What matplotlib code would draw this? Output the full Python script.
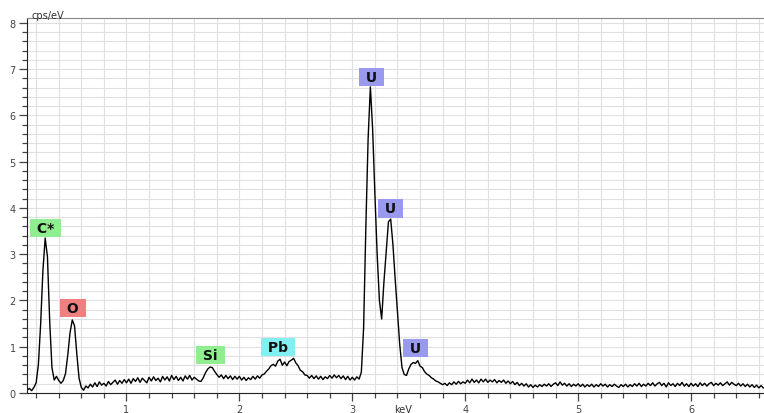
import numpy as np
import matplotlib
matplotlib.use("Agg")
import matplotlib.pyplot as plt
from matplotlib.ticker import MultipleLocator

# spectrum in cps/eV, sampled every 0.02 keV, one list per keV range
STEP = 0.02
seg_start = [0.12, 1.00, 2.00, 3.00, 4.00, 5.00, 6.00]

cps_0 = [0.06, 0.10, 0.05, 0.12, 0.22, 0.62, 1.50, 2.65, 3.35, 2.95, 1.55, 0.55,
         0.28, 0.36, 0.27, 0.21, 0.27, 0.42, 0.82, 1.30, 1.58, 1.45, 0.85, 0.32,
         0.12, 0.06, 0.15, 0.11, 0.19, 0.13, 0.22, 0.14, 0.24, 0.17, 0.21, 0.15,
         0.25, 0.18, 0.23, 0.28, 0.19, 0.27, 0.21, 0.29]
cps_1 = [0.22, 0.30, 0.21, 0.31, 0.25, 0.33, 0.23, 0.32, 0.27, 0.22, 0.34, 0.26,
         0.35, 0.27, 0.32, 0.24, 0.36, 0.28, 0.35, 0.26, 0.38, 0.29, 0.36, 0.27,
         0.34, 0.26, 0.37, 0.30, 0.38, 0.28, 0.34, 0.30, 0.26, 0.25, 0.33, 0.44,
         0.52, 0.56, 0.55, 0.47, 0.40, 0.34, 0.39, 0.31, 0.38, 0.31, 0.37, 0.29,
         0.36, 0.30]
cps_2 = [0.36, 0.28, 0.34, 0.27, 0.33, 0.29, 0.36, 0.30, 0.37, 0.32, 0.39, 0.41,
         0.47, 0.52, 0.59, 0.62, 0.58, 0.69, 0.73, 0.60, 0.67, 0.59, 0.68, 0.71,
         0.75, 0.65, 0.59, 0.49, 0.46, 0.39, 0.38, 0.32, 0.38, 0.31, 0.37, 0.30,
         0.36, 0.29, 0.35, 0.31, 0.38, 0.32, 0.39, 0.33, 0.38, 0.31, 0.37, 0.29,
         0.36, 0.28]
cps_3 = [0.34, 0.28, 0.35, 0.30, 0.45, 1.40, 3.60, 5.50, 6.62, 5.70, 4.30, 3.00,
         2.00, 1.60, 2.40, 3.05, 3.70, 3.76, 3.20, 2.45, 1.75, 1.05, 0.55, 0.40,
         0.38, 0.52, 0.62, 0.66, 0.64, 0.70, 0.58, 0.55, 0.46, 0.41, 0.38, 0.33,
         0.30, 0.26, 0.24, 0.21, 0.18, 0.21, 0.16, 0.22, 0.18, 0.24, 0.19, 0.25,
         0.20, 0.24]
cps_4 = [0.21, 0.28, 0.22, 0.30, 0.23, 0.28, 0.22, 0.30, 0.24, 0.30, 0.23, 0.28,
         0.24, 0.29, 0.22, 0.27, 0.23, 0.28, 0.21, 0.26, 0.20, 0.25, 0.18, 0.23,
         0.16, 0.21, 0.15, 0.20, 0.13, 0.18, 0.12, 0.17, 0.13, 0.18, 0.14, 0.19,
         0.15, 0.20, 0.14, 0.19, 0.22, 0.16, 0.24, 0.17, 0.21, 0.15, 0.20, 0.14,
         0.19, 0.15]
cps_5 = [0.20, 0.14, 0.19, 0.13, 0.18, 0.14, 0.19, 0.13, 0.18, 0.14, 0.20, 0.15,
         0.19, 0.13, 0.18, 0.14, 0.19, 0.15, 0.12, 0.18, 0.14, 0.19, 0.13, 0.18,
         0.14, 0.20, 0.15, 0.21, 0.14, 0.19, 0.15, 0.21, 0.16, 0.22, 0.15, 0.20,
         0.23, 0.16, 0.21, 0.13, 0.22, 0.16, 0.20, 0.14, 0.21, 0.16, 0.23, 0.15,
         0.20, 0.14]
cps_6 = [0.21, 0.15, 0.20, 0.14, 0.22, 0.16, 0.21, 0.15, 0.20, 0.23, 0.16, 0.21,
         0.17, 0.22, 0.16, 0.20, 0.24, 0.17, 0.23, 0.19, 0.16, 0.21, 0.15, 0.20,
         0.14, 0.19, 0.13, 0.18, 0.12, 0.17, 0.11, 0.16, 0.11]

# element labels
peak_names = ["C*", "O", "Si", "Pb", "U", "U", "U"]
peak_kev = [0.283, 0.526, 1.743, 2.345, 3.168, 3.336, 3.56]
peak_lbl_y = [3.57, 1.84, 0.82, 1.0, 6.84, 3.99, 0.98]
peak_colors = ["#90ee90", "#f08080", "#90ee90", "#80f0f0", "#9999ee", "#9999ee", "#9999ee"]

segments = [cps_0, cps_1, cps_2, cps_3, cps_4, cps_5, cps_6]
kev = np.concatenate([s + STEP * np.arange(len(v)) for s, v in zip(seg_start, segments)])
cps = np.concatenate(segments)

fig = plt.figure(figsize=(7.64, 4.14), dpi=100)
ax = fig.add_axes([27 / 764, 1 - 394 / 414, 1 - 27 / 764, (394 - 19) / 414])

ax.plot(kev, cps, color="black", lw=1.0)

for name, x, y, c in zip(peak_names, peak_kev, peak_lbl_y, peak_colors):
    ax.text(x, y, " " + name + " ", ha="center", va="center", fontsize=10,
            fontweight="bold", color="#111111",
            bbox=dict(boxstyle="square,pad=0.15", fc=c, ec="none"))

ax.set_xlim(0.119, 6.646)
ax.set_ylim(0, 8.108)
ax.xaxis.set_major_locator(MultipleLocator(1))
ax.xaxis.set_minor_locator(MultipleLocator(0.2))
ax.yaxis.set_major_locator(MultipleLocator(1))
ax.yaxis.set_minor_locator(MultipleLocator(0.2))
ax.grid(which="both", color="#e0e0e0", lw=0.8)
ax.set_axisbelow(True)

ax.tick_params(which="major", length=6, width=0.9, color="#444444",
               labelsize=7, labelcolor="#444444", pad=2)
ax.tick_params(which="minor", length=3.5, width=0.9, color="#444444")
for side in ["left", "bottom"]:
    ax.spines[side].set_color("#222222")
ax.spines["top"].set_color("#888888")
ax.spines["right"].set_visible(False)

fig.text(32 / 764, 1 - 16 / 414, "cps/eV", fontsize=7, color="#333333", va="center")
fig.text(403 / 764, 1 - 405 / 414, "keV", fontsize=7, color="#333333", ha="center", va="top")

fig.savefig("out.png", dpi=100)
